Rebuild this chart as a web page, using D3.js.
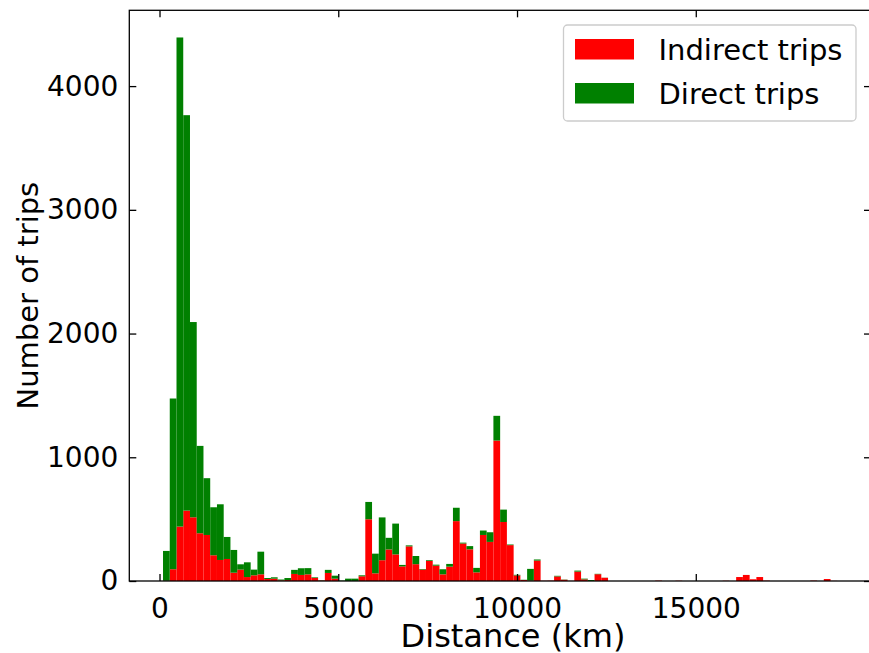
<!DOCTYPE html>
<html>
<head>
<meta charset="utf-8">
<script src="https://cdn.jsdelivr.net/npm/d3@7"></script>
<style>
  body { margin: 0; background: #fff; }
  text { font-family: "DejaVu Sans", sans-serif; fill: #000; }
</style>
</head>
<body>
<div class="container"></div>
<script>
// histogram bins: 100 equal bins from binStart, width binWidth (km)
var binStart = 98;
var binWidth = 188.6;

// red part (bottom of stack)
var indirectTrips = [2,95,440,569,515,386,372,208,170,178, 67,92,32,46,54,16,19,5,8,57,
  49,54,25,4,65,19,0,0,0,38, 499,62,168,255,215,118,280,136,92,162,
  124,54,116,484,303,256,70,372,316,1135, 477,290,45,8,3,165,2,3,37,10,
  1,76,13,0,55,26,0,0,0,0, 0,0,0,3,0,0,2,0,0,0,
  0,0,0,2,0,32,49,14,32,3, 0,0,0,0,0,0,3,0,16,1];

// green part (stacked on top)
var directTrips = [241,1380,3953,3196,1578,706,459,388,450,178, 184,43,119,46,183,8,11,7,16,33,
  54,50,5,2,25,24,3,19,19,8, 140,159,346,94,249,12,8,66,5,6,
  8,41,22,108,7,26,36,36,78,200, 100,5,5,2,95,9,0,0,5,2,
  0,8,6,8,3,1,0,0,0,0, 0,0,0,0,0,0,0,0,0,0,
  0,0,0,0,0,0,0,0,0,0, 0,0,0,0,0,0,0,0,0,0];

var seriesNames = ['Indirect trips', 'Direct trips'];
var seriesColors = ['#ff0000', '#008000'];
var xTicks = [0, 5000, 10000, 15000];
var yTicks = [0, 1000, 2000, 3000, 4000];

const WIDTH = 869;
const HEIGHT = 653;
const LEFT = 129.3, RIGHT = 871, TOP = 10.3, BOTTOM = 581;
const TICK = 7;

var rows = indirectTrips.map(function(v, i) {
  return {x0: binStart + i * binWidth, x1: binStart + (i + 1) * binWidth,
    indirect: v, direct: directTrips[i]};
});

var dataMin = binStart, dataMax = binStart + indirectTrips.length * binWidth;
var pad = (dataMax - dataMin) * 0.05;
var xScale = d3.scaleLinear().domain([dataMin - pad, dataMax + pad]).range([LEFT, RIGHT]);
var maxTotal = d3.max(rows, function(d) { return d.indirect + d.direct; });
var yScale = d3.scaleLinear().domain([0, maxTotal * 1.05]).range([BOTTOM, TOP]);

var svg = d3.select('.container').append('svg')
  .attr('width', WIDTH)
  .attr('height', HEIGHT);

var stack = d3.stack().keys(['indirect', 'direct']);
var layers = stack(rows);

svg.append('g').selectAll('g')
  .data(layers)
  .enter().append('g')
  .attr('fill', function(d, i) { return seriesColors[i]; })
  .selectAll('rect')
  .data(function(d) { return d; })
  .enter().append('rect')
  .attr('x', function(d) { return xScale(d.data.x0); })
  .attr('width', function(d) { return xScale(d.data.x1) - xScale(d.data.x0); })
  .attr('y', function(d) { return yScale(d[1]); })
  .attr('height', function(d) { return yScale(d[0]) - yScale(d[1]); });

// axes, ticks pointing inward on all four sides
var xAxis = d3.axisBottom(xScale).tickValues(xTicks).tickSize(-TICK).tickPadding(17).tickFormat(d3.format('d'));
var gx = svg.append('g').attr('transform', 'translate(0,' + BOTTOM + ')').call(xAxis);
var yAxis = d3.axisLeft(yScale).tickValues(yTicks).tickSize(-TICK).tickPadding(11).tickFormat(d3.format('d'));
var gy = svg.append('g').attr('transform', 'translate(' + LEFT + ',0)').call(yAxis);
var gxTop = svg.append('g').attr('transform', 'translate(0,' + TOP + ')')
  .call(d3.axisTop(xScale).tickValues(xTicks).tickSize(-TICK).tickFormat(''));
var gyRight = svg.append('g').attr('transform', 'translate(' + RIGHT + ',0)')
  .call(d3.axisRight(yScale).tickValues(yTicks).tickSize(-TICK).tickFormat(''));

[gx, gy, gxTop, gyRight].forEach(function(g) {
  g.select('.domain').remove();
  g.selectAll('line').attr('stroke', '#000').attr('stroke-width', 1.3);
  g.selectAll('text').style('font-family', '"DejaVu Sans", sans-serif').attr('font-size', 28).attr('fill', '#000');
});

svg.append('rect')
  .attr('x', LEFT).attr('y', TOP)
  .attr('width', RIGHT - LEFT).attr('height', BOTTOM - TOP)
  .attr('fill', 'none').attr('stroke', '#000').attr('stroke-width', 1.3);

svg.append('text')
  .attr('x', 513).attr('y', 646.5)
  .attr('text-anchor', 'middle').attr('font-size', 32)
  .text('Distance (km)');

svg.append('text')
  .attr('transform', 'translate(38,' + ((TOP + BOTTOM) / 2) + ') rotate(-90)')
  .attr('text-anchor', 'middle').attr('font-size', 29)
  .text('Number of trips');

// legend
var legend = svg.append('g').attr('transform', 'translate(563.5,25)');
legend.append('rect')
  .attr('width', 292.5).attr('height', 96).attr('rx', 4)
  .attr('fill', '#fff').attr('fill-opacity', 0.8)
  .attr('stroke', '#cccccc').attr('stroke-width', 1.3);
seriesNames.forEach(function(name, i) {
  legend.append('rect')
    .attr('x', 11.5).attr('y', 14 + i * 44)
    .attr('width', 59).attr('height', 20.5)
    .attr('fill', seriesColors[i]);
  legend.append('text')
    .attr('x', 95).attr('y', 34.5 + i * 44)
    .attr('font-size', 29)
    .text(name);
});
</script>
</body>
</html>
